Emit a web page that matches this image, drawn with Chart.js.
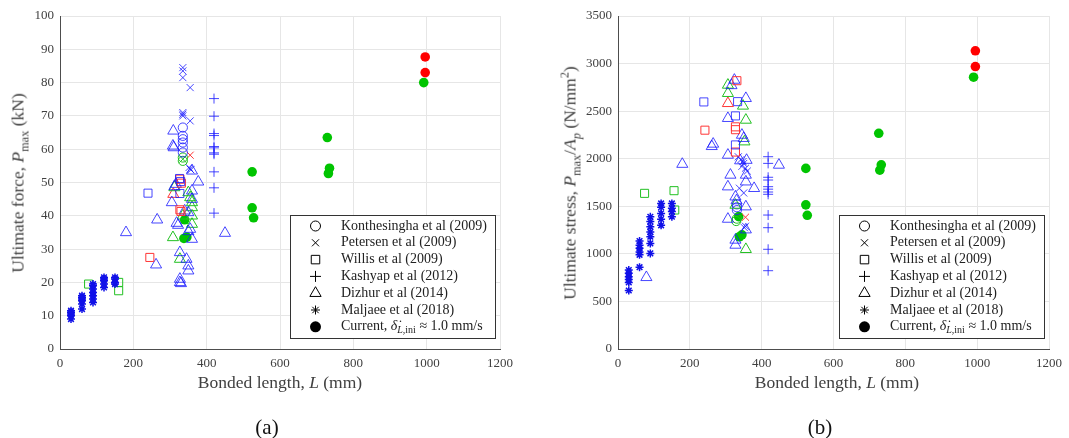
<!DOCTYPE html>
<html>
<head>
<meta charset="utf-8">
<script src="https://cdn.jsdelivr.net/npm/chart.js@4.4.0/dist/chart.umd.min.js"></script>
<style>
  body { margin: 0; background: #fff; font-family: "Liberation Serif", serif; color: #404040; }
  #wrap { position: relative; width: 1069px; height: 438px; overflow: hidden; }
  canvas { position: absolute; top: 0; }
  #cA { left: 0; }
  #cB { left: 539px; }
  .lbl { position: absolute; font-size: 17.5px; white-space: nowrap; transform: translate(-50%, -50%); }
  .rot { transform: translate(-50%, -50%) rotate(-90deg); }
  .cap { font-size: 21px; color: #111; }
  sub, sup { font-size: 70%; line-height: 0; }
</style>
</head>
<body>
<div id="wrap">
  <canvas id="cA" width="520" height="438"></canvas>
  <canvas id="cB" width="530" height="438"></canvas>

  <div class="lbl rot" style="left:18px; top:183px;">Ultimate force, <i>P</i><sub>max</sub> (kN)</div>
  <div class="lbl" style="left:280px; top:382px;">Bonded length, <i>L</i> (mm)</div>
  <div class="lbl cap" style="left:267px; top:427px;">(a)</div>

  <div class="lbl rot" style="left:570px; top:183px;">Ultimate stress, <i>P</i><sub>max</sub>/<i>A<sub>p</sub></i> (N/mm<sup>2</sup>)</div>
  <div class="lbl" style="left:837px; top:382px;">Bonded length, <i>L</i> (mm)</div>
  <div class="lbl cap" style="left:820px; top:427px;">(b)</div>
</div>

<script>
// ---- (a) ultimate force P_max (kN) vs bonded length L (mm) ----
const maljaeeA = [
  [30, 9], [30, 10], [30, 10.5], [30, 11], [30, 11.5],
  [60, 12], [60, 13.5], [60, 14.5], [60, 15], [60, 15.5], [60, 16],
  [90, 14], [90, 15], [90, 16], [90, 17], [90, 18], [90, 19], [90, 19.5],
  [120, 18.5], [120, 19.5], [120, 20.5], [120, 21], [120, 21.5],
  [150, 19.5], [150, 20], [150, 21], [150, 21.5]
];
const konthesinghaA_blue = [[335, 66.5], [335, 64], [335, 63], [335, 62], [335, 60.5], [335, 59]];
const konthesinghaA_green = [[335, 57.5], [335, 56.5]];
const petersenA_blue = [[335, 84.5], [335, 83.5], [335, 81.5], [355, 78.5], [335, 71], [335, 70.5], [335, 70],
  [355, 68.5], [352, 54.5], [355, 54], [357, 53.8]];
const petersenA_red = [[355, 58.2]];
const petersenA_green = [[335, 57]];
const willisA_blue = [[240, 46.8], [326, 51.2], [329, 50.3], [327, 46.7]];
const willisA_red = [[245, 27.5], [327, 51], [331, 49.8], [327, 41.8], [330, 41.3]];
const willisA_green = [[78, 19.5], [160, 20], [160, 17.5]];
const kashyapA = [[420, 75.2], [420, 69.9], [420, 64.7], [420, 64.1], [420, 60.8], [420, 60.4], [420, 58.9],
  [420, 58.5], [420, 53.2], [420, 48.4], [420, 40.8]];
const dizhurA_blue = [
  [180, 35], [262, 25.3], [265, 38.8], [309, 65.5], [308, 61], [310, 60.5], [316, 49.5], [312, 48.8], [305, 44],
  [318, 37.8], [322, 37.2], [327, 29], [327, 21], [327, 20], [330, 19.7], [360, 53.5], [377, 50.2], [360, 47.5],
  [360, 45], [350, 41], [355, 36], [350, 35.3], [360, 33], [345, 27], [350, 25], [350, 23.5], [450, 34.8], [340, 41.5]
];
const dizhurA_green = [[308, 33.5], [327, 27], [312, 48.5], [350, 47], [355, 45.5], [360, 44], [360, 42.5],
  [360, 40], [360, 37.5], [335, 40]];
const dizhurA_red = [[309, 46.5]];
const currentA_green = [[340, 38.8], [338, 33.2], [346, 33.6], [524, 53.2], [524, 42.4], [528, 39.4],
  [729, 63.5], [732, 52.7], [735, 54.3], [992, 80]];
const currentA_red = [[996, 87.7], [996, 83]];

// ---- (b) ultimate stress P_max/A_p (N/mm2) vs bonded length L (mm) ----
const maljaeeB = [
  [30, 615], [30, 700], [30, 730], [30, 760], [30, 795], [30, 830],
  [60, 860], [60, 990], [60, 1020], [60, 1060], [60, 1090], [60, 1135],
  [90, 1005], [90, 1110], [90, 1180], [90, 1230], [90, 1285], [90, 1340], [90, 1390],
  [120, 1300], [120, 1365], [120, 1425], [120, 1490], [120, 1530],
  [150, 1390], [150, 1445], [150, 1480], [150, 1530]
];
const konthesinghaB_blue = [[331, 1520], [331, 1490], [331, 1460]];
const konthesinghaB_green = [[331, 1370], [329, 1345]];
const petersenB_blue = [[335, 2020], [342, 1990], [348, 1970], [350, 1950], [345, 1920], [355, 1900], [360, 1870],
  [338, 1690], [350, 1640], [355, 1290], [352, 1275]];
const petersenB_red = [[355, 1385]];
const willisB_blue = [[239, 2597], [333, 2600], [327, 2450], [327, 2145]];
const willisB_red = [[242, 2300], [331, 2820], [327, 2335], [327, 2305], [327, 2070]];
const willisB_green = [[74, 1636], [156, 1664], [158, 1461]];
const kashyapB = [[418, 2021], [418, 1951], [418, 1805], [418, 1776], [418, 1706], [418, 1680], [418, 1650],
  [418, 1626], [418, 1408], [418, 1275], [418, 1048], [418, 823]];
const dizhurB_blue = [
  [79, 753], [179, 1943], [261, 2130], [265, 2155], [316, 2770], [324, 2827], [306, 2425], [356, 2635], [345, 2249],
  [350, 2215], [306, 2039], [313, 1829], [356, 1829], [306, 1706], [356, 1758], [379, 1689], [327, 1600], [356, 1496],
  [306, 1366], [356, 1254], [327, 1146], [327, 1093], [448, 1934], [340, 1980], [358, 1985], [330, 1560]
];
const dizhurB_green = [[306, 2775], [306, 2688], [348, 2555], [356, 2407], [352, 2179], [327, 1513], [356, 1048]];
const dizhurB_red = [[306, 2582]];
const currentB_green = [[336, 1391], [338, 1180], [345, 1200], [523, 1898], [523, 1515], [527, 1405],
  [726, 2267], [729, 1880], [733, 1936], [990, 2857]];
const currentB_red = [[995, 3134], [995, 2969]];

// legend (shared by both panels)
const legendNames = [
  [["Konthesingha et al (2009)", ""]],
  [["Petersen et al (2009)", ""]],
  [["Willis et al (2009)", ""]],
  [["Kashyap et al (2012)", ""]],
  [["Dizhur et al (2014)", ""]],
  [["Maljaee et al (2018)", ""]],
  [["Current, ", ""], ["\u03B4\u0307", "i"], ["L", "isub"], [",ini", "sub"], [" \u2248 1.0 mm/s", ""]]
];
const legendStyles = ["circle", "crossRot", "rect", "cross", "triangle", "star", "circle"];
const legendRadius = [5, 5, 6, 5.5, 6.5, 4.5, 5.5];

const BLUE = "rgba(25,25,255,0.8)";
const STAR_BLUE = "#1010e8";
const RED = "#ff3535";
const GREEN = "#22c022";
const FILL_GREEN = "#00c400";
const FILL_RED = "#ff0000";
const FONT = "Liberation Serif";

function pts(arr) {
  return arr.map(([x, y]) => ({ x, y }));
}

function markers(arr, style, color, r, filled, bw) {
  return {
    data: pts(arr),
    showLine: false,
    pointStyle: style,
    pointRadius: r,
    pointHoverRadius: r,
    borderColor: color,
    backgroundColor: filled ? color : "rgba(0,0,0,0)",
    pointBorderWidth: filled ? 0 : (bw || 1)
  };
}

// legend box drawn inside the lower right corner of the plot area
const boxLegend = {
  id: "boxLegend",
  afterDraw(chart) {
    const ctx = chart.ctx;
    const a = chart.chartArea;
    const w = 205, h = 123;
    const right = a.right - 5, bottom = a.bottom - 11;
    const left = Math.round(right - w), top = Math.round(bottom - h);
    ctx.save();
    ctx.fillStyle = "#fff";
    ctx.fillRect(left, top, w, h);
    ctx.strokeStyle = "#333";
    ctx.lineWidth = 1;
    ctx.strokeRect(left + 0.5, top + 0.5, w, h);

    legendNames.forEach((parts, i) => {
      const y = top + 11 + i * 16.8;
      const filled = i === legendNames.length - 1;
      ctx.strokeStyle = "#000";
      ctx.fillStyle = filled ? "#000" : "rgba(0,0,0,0)";
      ctx.lineWidth = 1;
      Chart.helpers.drawPoint(ctx, {
        pointStyle: legendStyles[i], radius: legendRadius[i], rotation: 0, borderWidth: filled ? 0 : 1
      }, left + 25.5, y);

      let x = left + 51;
      ctx.fillStyle = "#222";
      ctx.textBaseline = "middle";
      parts.forEach(([txt, kind]) => {
        let size = 14, dy = 0, style = "";
        if (kind === "i") style = "italic ";
        if (kind === "sub" || kind === "isub") { size = 10; dy = 4; }
        if (kind === "isub") style = "italic ";
        ctx.font = style + size + "px '" + FONT + "'";
        ctx.fillText(txt, x, y + dy);
        x += ctx.measureText(txt).width;
      });
    });
    ctx.restore();
  }
};

function options(yMax, yStep, yWidth, padRight) {
  const tickFont = { family: FONT, size: 13 };
  const plain = (v) => String(v);
  return {
    responsive: false,
    animation: false,
    layout: { padding: { top: 16, right: padRight, bottom: 0, left: 0 } },
    plugins: { legend: { display: false }, tooltip: { enabled: false } },
    scales: {
      x: {
        type: "linear", min: 0, max: 1200,
        ticks: { stepSize: 200, font: tickFont, color: "#404040", padding: 7, maxRotation: 0, callback: plain },
        grid: { color: "#e6e6e6", drawTicks: false },
        border: { color: "#4d4d4d" },
        afterFit: (s) => { s.height = 89; }
      },
      y: {
        type: "linear", min: 0, max: yMax,
        ticks: { stepSize: yStep, font: tickFont, color: "#404040", padding: 6, callback: plain },
        grid: { color: "#e6e6e6", drawTicks: false },
        border: { color: "#4d4d4d" },
        afterFit: (s) => { s.width = yWidth; }
      }
    }
  };
}

new Chart(document.getElementById("cA"), {
  type: "scatter",
  data: {
    datasets: [
      markers(maljaeeA, "star", STAR_BLUE, 4, false, 1.5),
      markers(willisA_green, "rect", GREEN, 5.7, false),
      markers(willisA_blue, "rect", BLUE, 5.7, false),
      markers(willisA_red, "rect", RED, 5.7, false),
      markers(dizhurA_blue, "triangle", BLUE, 6.4, false),
      markers(dizhurA_green, "triangle", GREEN, 6.4, false),
      markers(dizhurA_red, "triangle", RED, 6.4, false),
      markers(konthesinghaA_blue, "circle", BLUE, 4.6, false),
      markers(konthesinghaA_green, "circle", GREEN, 4.6, false),
      markers(petersenA_blue, "crossRot", BLUE, 5, false),
      markers(petersenA_green, "crossRot", GREEN, 5, false),
      markers(petersenA_red, "crossRot", RED, 5, false),
      markers(kashyapA, "cross", BLUE, 5, false),
      markers(currentA_green, "circle", FILL_GREEN, 4.8, true),
      markers(currentA_red, "circle", FILL_RED, 4.8, true)
    ]
  },
  options: options(100, 10, 60, 20),
  plugins: [boxLegend]
});

new Chart(document.getElementById("cB"), {
  type: "scatter",
  data: {
    datasets: [
      markers(maljaeeB, "star", STAR_BLUE, 4, false, 1.5),
      markers(willisB_green, "rect", GREEN, 5.7, false),
      markers(willisB_blue, "rect", BLUE, 5.7, false),
      markers(willisB_red, "rect", RED, 5.7, false),
      markers(dizhurB_blue, "triangle", BLUE, 6.4, false),
      markers(dizhurB_green, "triangle", GREEN, 6.4, false),
      markers(dizhurB_red, "triangle", RED, 6.4, false),
      markers(konthesinghaB_blue, "circle", BLUE, 4.6, false),
      markers(konthesinghaB_green, "circle", GREEN, 4.6, false),
      markers(petersenB_blue, "crossRot", BLUE, 5, false),
      markers(petersenB_red, "crossRot", RED, 5, false),
      markers(kashyapB, "cross", BLUE, 5, false),
      markers(currentB_green, "circle", FILL_GREEN, 4.8, true),
      markers(currentB_red, "circle", FILL_RED, 4.8, true)
    ]
  },
  options: options(3500, 500, 79, 13),
  plugins: [boxLegend]
});
</script>
</body>
</html>
